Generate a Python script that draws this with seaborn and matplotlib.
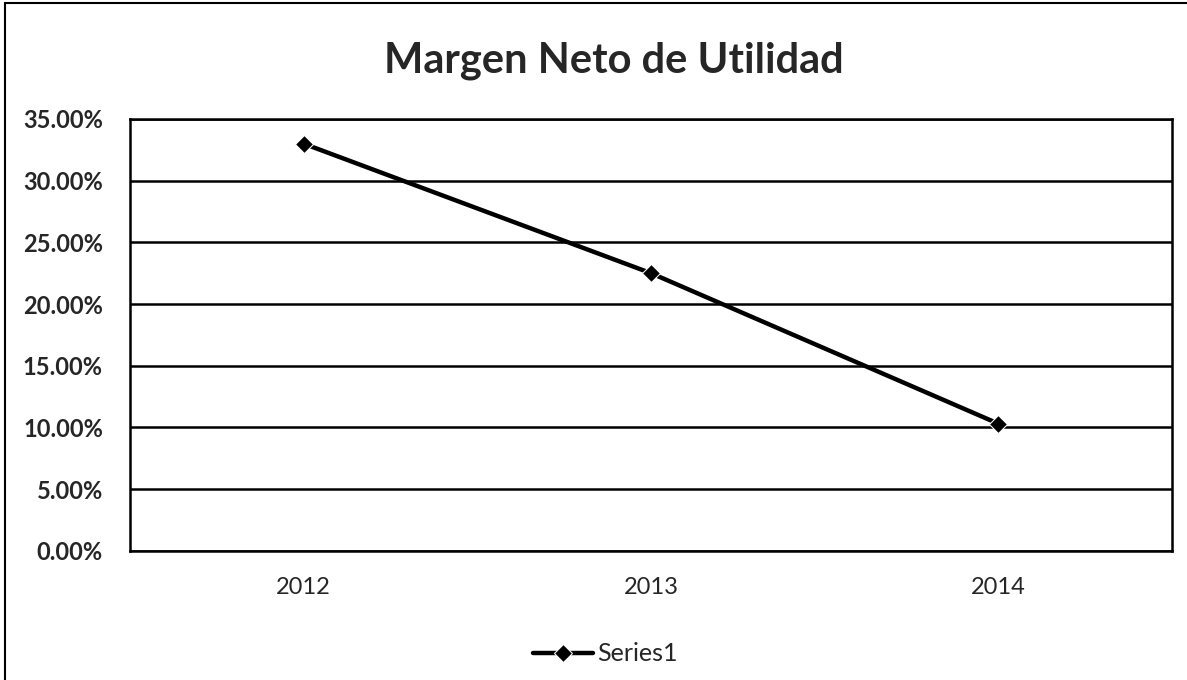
import pandas as pd
import numpy as np
import matplotlib
matplotlib.use('Agg')
import matplotlib.pyplot as plt
from matplotlib.patches import Rectangle
from matplotlib.ticker import FuncFormatter
import seaborn as sns

years = ['2012', '2013', '2014']
margen = [0.330, 0.225, 0.103]
y_ticks = [0.0, 0.05, 0.10, 0.15, 0.20, 0.25, 0.30, 0.35]

df = pd.DataFrame({'anio': years, 'margen': margen, 'serie': 'Series1'})

sns.set_style('white')
plt.rcParams['font.family'] = ['Lato', 'DejaVu Sans']

fig = plt.figure(figsize=(11.87, 6.8), dpi=100)
ax = fig.add_axes([0.1095, 0.19, 0.878, 0.635])

sns.lineplot(data=df, x='anio', y='margen', hue='serie', palette=['black'],
             marker='D', markersize=9, linewidth=3.2, ax=ax, sort=False)

ax.set_xlim(-0.5, 2.5)
ax.set_ylim(0, 0.35)
ax.set_yticks(y_ticks)
ax.yaxis.set_major_formatter(FuncFormatter(lambda v, p: f'{v*100:.2f}%'))
ax.grid(axis='y', color='black', linewidth=1.8)
ax.set_axisbelow(True)
for s in ax.spines.values():
    s.set_color('black')
    s.set_linewidth(1.8)
ax.tick_params(axis='y', labelsize=17, length=0, pad=19.5)
ax.tick_params(axis='x', labelsize=17, length=0, pad=19)
for t in ax.get_yticklabels():
    t.set_fontweight('bold')
ax.set_xlabel('')
ax.set_ylabel('')

fig.text(0.517, 1 - 73 / 680, 'Margen Neto de Utilidad', fontsize=30,
         fontweight='bold', ha='center', va='baseline')

ax.legend(loc='upper center', bbox_to_anchor=(0.456, -0.16), frameon=False,
          fontsize=18, handlelength=2.4, handletextpad=0.15)

fig.patches.append(Rectangle((0.004, -0.01), 1.1, 1.005, transform=fig.transFigure,
                             fill=False, edgecolor='black', linewidth=1.5))

fig.savefig('out.png', dpi=100)
